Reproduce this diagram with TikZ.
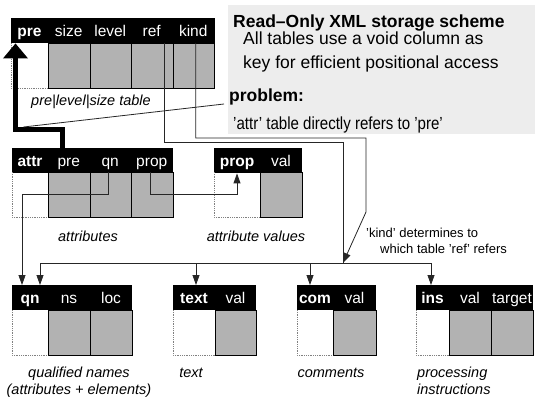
\documentclass[tikz,border=0pt]{standalone}
\usepackage{fontspec}
\setmainfont{Liberation Sans}
\usetikzlibrary{arrows.meta}

\definecolor{colgray}{gray}{0.70}
\definecolor{notegray}{gray}{0.93}

\tikzset{
  head/.style={fill=black, anchor=north west, inner sep=0pt, minimum height=25pt},
  col/.style={draw=black, line width=0.8pt, fill=colgray, anchor=north west,
    inner sep=0pt, minimum width=#1, minimum height=45pt},
  col/.default=41.5pt,
  lbl/.style={text=white, anchor=base, inner sep=0pt, font=\fontsize{15.5}{18}\selectfont},
  key/.style={lbl, font=\fontsize{15.5}{18}\selectfont\bfseries},
  void/.style={draw=gray, densely dotted, line width=0.8pt},
  caption/.style={anchor=base, inner sep=0pt, align=center, font=\fontsize{14.5}{17}\selectfont\itshape},
  conn/.style={draw=black!85, line width=0.8pt},
  tip/.style={conn, -{Triangle[width=7pt,length=10pt]}},
  note/.style={anchor=base west, inner sep=0pt, font=\fontsize{17.5}{20}\selectfont},
  smallnote/.style={anchor=base west, inner sep=0pt, font=\fontsize{13}{16}\selectfont},
}

\begin{document}
\begin{tikzpicture}[x=1pt, y=-1pt]
\useasboundingbox (0,0) rectangle (535,398);

% grey note box
\node[fill=notegray, anchor=north west, inner sep=0pt, minimum width=307pt, minimum height=129pt] (notebox) at (228,5) {};
\node[note, font=\fontsize{17.5}{20}\selectfont\bfseries] (title) at (233,28) {Read--Only XML storage scheme};
\node[note] (line1) at (243,45) {All tables use a void column as};
\node[note] (line2) at (243,69) {key for efficient positional access};
\node[note, font=\fontsize{17.5}{20}\selectfont\bfseries] (problem) at (229,102) {problem:};
\node[note] (line3) at (233,130) {\scalebox{0.86}[1]{'attr' table directly refers to 'pre'}};

% pre|level|size table
\node[head, minimum width=203.5pt] (pre) at (11,18) {};
\node[key] at (29.5,36.5) {pre};
\foreach \c/\x in {size/48,level/89.5,ref/131,kind/172.5} {
  \node[col] (pre-\c) at (\x,43) {};
  \node[lbl] at (\x+20.75,36.5) {\c};
}
\draw[void] (11,43) -- (11,88) -- (48,88);
\node[caption] (precap) at (91,106) {pre|level|size table};

% attr table
\node[head, minimum width=160.5pt] (attr) at (12,148) {};
\node[key] at (30,166.5) {attr};
\foreach \c/\x in {pre/48,qn/89.5,prop/131} {
  \node[col] (attr-\c) at (\x,172) {};
  \node[lbl] at (\x+20.75,166.5) {\c};
}
\draw[void] (12,172) -- (12,217) -- (48,217);
\node[caption] (attrcap) at (88,241) {attributes};

% prop table
\node[head, minimum width=88pt] (prop) at (214,148) {};
\node[key] at (237,166.5) {prop};
\node[col=42pt] (prop-val) at (260,172) {};
\node[lbl] at (281,166.5) {val};
\draw[void] (214,172) -- (214,217) -- (260,217);
\node[caption] (propcap) at (256,241) {attribute values};

% qn table
\node[head, minimum width=120pt] (qn) at (12,285) {};
\node[key] at (30,303.5) {qn};
\foreach \c/\x in {ns/48,loc/90} {
  \node[col=42pt] (qn-\c) at (\x,310) {};
  \node[lbl] at (\x+21,303.5) {\c};
}
\draw[void] (12,310) -- (12,355) -- (48,355);
\node[caption] (qncap) at (79,394) {qualified names\\(attributes + elements)};

% text table
\node[head, minimum width=83pt] (txt) at (173,285) {};
\node[key] at (194,303.5) {text};
\node[col=41pt] (txt-val) at (215,310) {};
\node[lbl] at (235.5,303.5) {val};
\draw[void] (173,310) -- (173,355) -- (215,355);
\node[caption] (txtcap) at (191,377) {text};

% com table
\node[head, minimum width=79pt] (com) at (297,285) {};
\node[key] at (315,303.5) {com};
\node[col=43pt] (com-val) at (333,310) {};
\node[lbl] at (354.5,303.5) {val};
\draw[void] (297,310) -- (297,355) -- (333,355);
\node[caption] (comcap) at (331,377) {comments};

% ins table
\node[head, minimum width=117pt] (ins) at (416,285) {};
\node[key] at (432.5,303.5) {ins};
\foreach \c/\x in {val/449,target/491} {
  \node[col=42pt] (ins-\c) at (\x,310) {};
  \node[lbl] at (\x+21,303.5) {\c};
}
\draw[void] (416,310) -- (416,355) -- (449,355);
\node[caption, anchor=base west, align=left] (inscap) at (417,394) {processing\\instructions};

% bend points and arrow targets
\coordinate (refbend) at (343,142);
\coordinate (kindbend) at (366,138);
\coordinate (kinddrop) at (366,212);
\coordinate (fork) at (343,263);
\coordinate (attrrow) at (0,194);
\coordinate (backlink) at (15.5,129.5);
\coordinate (qn-in1) at ([xshift=10pt]qn.north west);
\coordinate (qn-in2) at ([xshift=28pt]qn.north west);
\coordinate (txt-in) at ([xshift=23pt]txt.north west);
\coordinate (com-in) at ([xshift=13pt]com.north west);
\coordinate (ins-in) at ([xshift=15pt]ins.north west);
\coordinate (prop-in) at ([xshift=23pt]prop.south west);

% ref and kind columns
\draw[conn] ([xshift=-9pt]pre-ref.north east) |- (refbend) -- (fork);
\draw[tip] ([xshift=2pt]pre-kind.north) |- (kindbend) -- (kinddrop) -- (fork);
\node[smallnote] (kindnote) at (366,237) {'kind' determines to};
\node[smallnote] (kindnote2) at (380,253) {which table 'ref' refers};

% fan out to the value tables
\draw[conn] (qn-in2 |- fork) -- (ins-in |- fork);
\foreach \t in {qn-in2,txt-in,com-in,ins-in}
\draw[tip] (\t |- fork) -- (\t);

% attr columns
\draw[tip] ([xshift=-2pt]attr-qn.north) |- (qn-in1 |- attrrow) -- (qn-in1);
\draw[tip] ([xshift=-1.75pt]attr-prop.north) |- (prop-in |- attrrow) -- (prop-in);

% attr.pre points back to pre
\draw[line width=5pt, -{Triangle[width=24pt,length=15pt]}] ([xshift=50pt]attr.north west) |- (backlink) -- (backlink |- pre.south);
\draw[conn] ([xshift=8pt,yshift=2.5pt]backlink) -- ([xshift=-5pt,yshift=-2pt]problem.base west);

\end{tikzpicture}
\end{document}
